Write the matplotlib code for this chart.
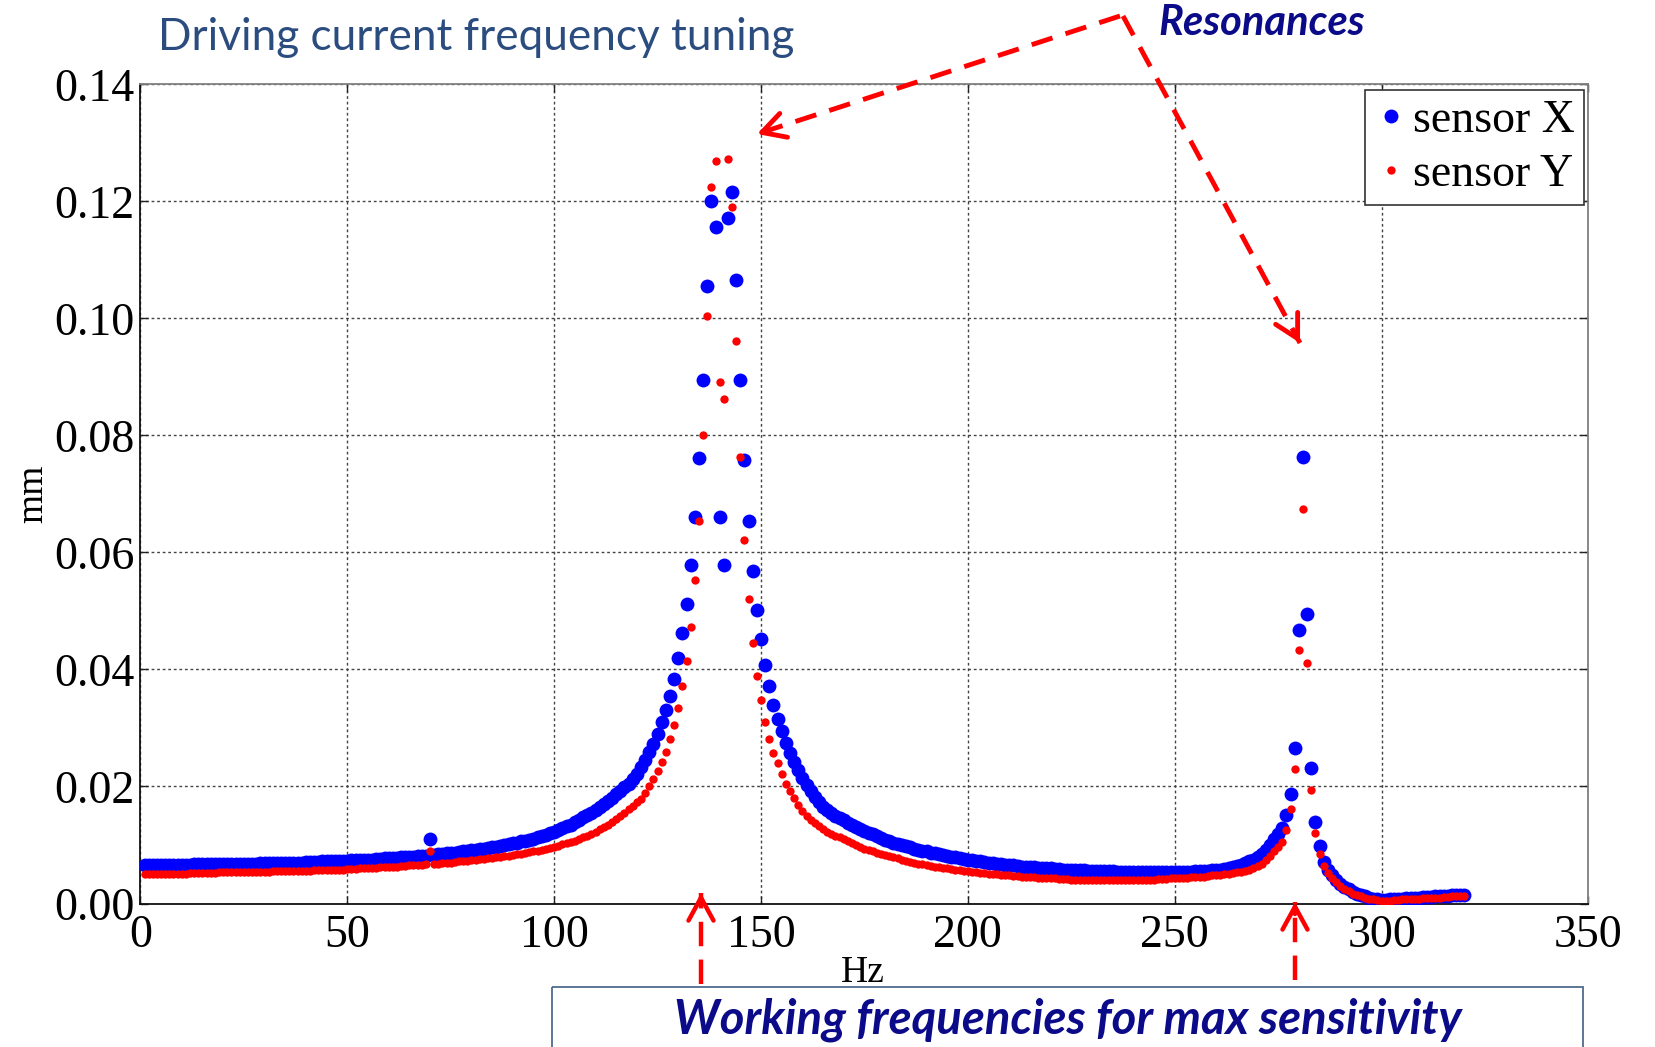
import matplotlib
matplotlib.use('Agg')
import matplotlib.pyplot as plt
from matplotlib.patches import Rectangle

# ---------------- data ----------------
freqs = list(range(1, 321))  # Hz, 1 Hz steps

sensor_x = [
    0.0065, 0.0065, 0.0065, 0.0065, 0.0066, 0.0066, 0.0066, 0.0066, 0.0066, 0.0066,
    0.0066, 0.0066, 0.0067, 0.0067, 0.0067, 0.0067, 0.0067, 0.0067, 0.0067, 0.0067,
    0.0067, 0.0068, 0.0068, 0.0068, 0.0068, 0.0068, 0.0068, 0.0068, 0.0069, 0.0069,
    0.0069, 0.0069, 0.0069, 0.0069, 0.0070, 0.0070, 0.0070, 0.0070, 0.0070, 0.0071,
    0.0071, 0.0071, 0.0071, 0.0072, 0.0072, 0.0072, 0.0072, 0.0073, 0.0073, 0.0073,
    0.0074, 0.0074, 0.0074, 0.0075, 0.0075, 0.0075, 0.0076, 0.0076, 0.0077, 0.0077,
    0.0078, 0.0078, 0.0079, 0.0079, 0.0080, 0.0080, 0.0081, 0.0082, 0.0082, 0.0111,
    0.0083, 0.0084, 0.0085, 0.0086, 0.0087, 0.0087, 0.0088, 0.0089, 0.0090, 0.0091,
    0.0092, 0.0093, 0.0094, 0.0095, 0.0096, 0.0097, 0.0099, 0.0100, 0.0101, 0.0103,
    0.0104, 0.0106, 0.0107, 0.0109, 0.0111, 0.0113, 0.0115, 0.0117, 0.0120, 0.0123,
    0.0126, 0.0129, 0.0132, 0.0135, 0.0139, 0.0143, 0.0147, 0.0151, 0.0155, 0.0160,
    0.0165, 0.0170, 0.0175, 0.0181, 0.0187, 0.0193, 0.0199, 0.0205, 0.0212, 0.0221,
    0.0233, 0.0245, 0.0259, 0.0273, 0.0289, 0.0310, 0.0331, 0.0355, 0.0384, 0.0419,
    0.0462, 0.0512, 0.0578, 0.0660, 0.0761, 0.0894, 0.1056, 0.1201, 0.1156, 0.0661,
    0.0579, 0.1171, 0.1216, 0.1065, 0.0894, 0.0758, 0.0653, 0.0568, 0.0502, 0.0452,
    0.0408, 0.0371, 0.0340, 0.0315, 0.0294, 0.0274, 0.0257, 0.0242, 0.0228, 0.0214,
    0.0203, 0.0192, 0.0182, 0.0173, 0.0165, 0.0160, 0.0155, 0.0150, 0.0146, 0.0142,
    0.0138, 0.0134, 0.0131, 0.0127, 0.0124, 0.0121, 0.0118, 0.0115, 0.0112, 0.0108,
    0.0106, 0.0104, 0.0102, 0.0100, 0.0098, 0.0096, 0.0094, 0.0092, 0.0090, 0.0089,
    0.0087, 0.0086, 0.0084, 0.0083, 0.0081, 0.0080, 0.0079, 0.0077, 0.0076, 0.0075,
    0.0074, 0.0073, 0.0072, 0.0071, 0.0070, 0.0069, 0.0068, 0.0067, 0.0066, 0.0065,
    0.0065, 0.0064, 0.0063, 0.0063, 0.0062, 0.0062, 0.0061, 0.0061, 0.0060, 0.0060,
    0.0059, 0.0059, 0.0058, 0.0058, 0.0058, 0.0057, 0.0057, 0.0057, 0.0056, 0.0056,
    0.0056, 0.0055, 0.0055, 0.0055, 0.0055, 0.0054, 0.0054, 0.0054, 0.0054, 0.0054,
    0.0054, 0.0053, 0.0053, 0.0053, 0.0053, 0.0053, 0.0053, 0.0053, 0.0053, 0.0053,
    0.0054, 0.0054, 0.0054, 0.0054, 0.0055, 0.0055, 0.0056, 0.0056, 0.0057, 0.0057,
    0.0058, 0.0059, 0.0060, 0.0062, 0.0064, 0.0066, 0.0069, 0.0072, 0.0075, 0.0079,
    0.0084, 0.0091, 0.0100, 0.0110, 0.0119, 0.0129, 0.0151, 0.0188, 0.0265, 0.0467,
    0.0763, 0.0494, 0.0231, 0.0140, 0.0098, 0.0071, 0.0058, 0.0048, 0.0040, 0.0033,
    0.0028, 0.0024, 0.0020, 0.0017, 0.0014, 0.0012, 0.0010, 0.0008, 0.0007, 0.0006,
    0.0006, 0.0007, 0.0007, 0.0008, 0.0008, 0.0009, 0.0009, 0.0010, 0.0010, 0.0011,
    0.0011, 0.0011, 0.0012, 0.0012, 0.0013, 0.0013, 0.0014, 0.0014, 0.0015, 0.0015,
]

sensor_y = [
    0.0050, 0.0050, 0.0050, 0.0050, 0.0051, 0.0051, 0.0051, 0.0051, 0.0051, 0.0051,
    0.0051, 0.0052, 0.0052, 0.0052, 0.0052, 0.0052, 0.0052, 0.0052, 0.0053, 0.0053,
    0.0053, 0.0053, 0.0053, 0.0053, 0.0053, 0.0054, 0.0054, 0.0054, 0.0054, 0.0054,
    0.0054, 0.0055, 0.0055, 0.0055, 0.0055, 0.0055, 0.0056, 0.0056, 0.0056, 0.0056,
    0.0056, 0.0057, 0.0057, 0.0057, 0.0057, 0.0058, 0.0058, 0.0058, 0.0058, 0.0059,
    0.0059, 0.0059, 0.0060, 0.0060, 0.0060, 0.0061, 0.0061, 0.0062, 0.0062, 0.0062,
    0.0063, 0.0063, 0.0064, 0.0064, 0.0065, 0.0065, 0.0066, 0.0066, 0.0067, 0.0089,
    0.0068, 0.0068, 0.0069, 0.0070, 0.0070, 0.0071, 0.0072, 0.0072, 0.0073, 0.0074,
    0.0075, 0.0076, 0.0076, 0.0077, 0.0078, 0.0079, 0.0080, 0.0081, 0.0082, 0.0083,
    0.0084, 0.0085, 0.0087, 0.0088, 0.0089, 0.0090, 0.0092, 0.0093, 0.0095, 0.0097,
    0.0099, 0.0101, 0.0103, 0.0105, 0.0107, 0.0110, 0.0113, 0.0116, 0.0119, 0.0123,
    0.0127, 0.0131, 0.0135, 0.0139, 0.0144, 0.0149, 0.0155, 0.0161, 0.0167, 0.0173,
    0.0179, 0.0189, 0.0201, 0.0212, 0.0226, 0.0242, 0.0259, 0.0281, 0.0305, 0.0335,
    0.0371, 0.0415, 0.0473, 0.0553, 0.0654, 0.0801, 0.1004, 0.1224, 0.1269, 0.0892,
    0.0863, 0.1272, 0.1190, 0.0962, 0.0763, 0.0621, 0.0520, 0.0446, 0.0389, 0.0347,
    0.0311, 0.0282, 0.0258, 0.0240, 0.0221, 0.0205, 0.0193, 0.0180, 0.0168, 0.0158,
    0.0150, 0.0143, 0.0137, 0.0132, 0.0127, 0.0123, 0.0119, 0.0116, 0.0113, 0.0110,
    0.0106, 0.0103, 0.0100, 0.0097, 0.0094, 0.0092, 0.0089, 0.0087, 0.0085, 0.0083,
    0.0081, 0.0079, 0.0077, 0.0075, 0.0073, 0.0071, 0.0070, 0.0068, 0.0067, 0.0065,
    0.0064, 0.0063, 0.0062, 0.0061, 0.0060, 0.0059, 0.0058, 0.0057, 0.0056, 0.0055,
    0.0054, 0.0053, 0.0052, 0.0052, 0.0051, 0.0050, 0.0050, 0.0049, 0.0049, 0.0048,
    0.0047, 0.0047, 0.0046, 0.0046, 0.0045, 0.0045, 0.0044, 0.0044, 0.0043, 0.0043,
    0.0043, 0.0042, 0.0042, 0.0042, 0.0041, 0.0041, 0.0041, 0.0041, 0.0040, 0.0040,
    0.0040, 0.0040, 0.0040, 0.0040, 0.0040, 0.0040, 0.0040, 0.0040, 0.0040, 0.0040,
    0.0040, 0.0041, 0.0041, 0.0041, 0.0041, 0.0042, 0.0042, 0.0042, 0.0043, 0.0043,
    0.0043, 0.0044, 0.0044, 0.0045, 0.0045, 0.0046, 0.0046, 0.0047, 0.0048, 0.0049,
    0.0049, 0.0050, 0.0051, 0.0052, 0.0053, 0.0054, 0.0056, 0.0058, 0.0061, 0.0064,
    0.0068, 0.0074, 0.0082, 0.0090, 0.0097, 0.0105, 0.0126, 0.0161, 0.0230, 0.0433,
    0.0675, 0.0411, 0.0194, 0.0120, 0.0085, 0.0064, 0.0052, 0.0043, 0.0036, 0.0030,
    0.0025, 0.0021, 0.0017, 0.0014, 0.0012, 0.0010, 0.0008, 0.0007, 0.0006, 0.0005,
    0.0005, 0.0005, 0.0006, 0.0006, 0.0007, 0.0007, 0.0008, 0.0008, 0.0008, 0.0009,
    0.0009, 0.0010, 0.0010, 0.0010, 0.0011, 0.0011, 0.0012, 0.0012, 0.0013, 0.0013,
]

series_labels = ['sensor X', 'sensor Y']
x_ticks = [0, 50, 100, 150, 200, 250, 300, 350]
x_tick_labels = ['0', '50', '100', '150', '200', '250', '300', '350']
y_ticks = [0.00, 0.02, 0.04, 0.06, 0.08, 0.10, 0.12, 0.14]
y_tick_labels = ['0.00', '0.02', '0.04', '0.06', '0.08', '0.10', '0.12', '0.14']
x_label = 'Hz'
y_label = 'mm'
title_text = 'Driving current frequency tuning'
resonance_text = 'Resonances'
working_text = 'Working frequencies for max sensitivity'

# ---------------- figure ----------------
plt.rcParams['font.family'] = ['Liberation Serif', 'DejaVu Serif']
W, H = 1655, 1047
fig = plt.figure(figsize=(W / 100, H / 100), dpi=100)

ax_l, ax_r, ax_t, ax_b = 140.4, 1588.5, 84.4, 903.5
ax = fig.add_axes([ax_l / W, 1 - ax_b / H, (ax_r - ax_l) / W, (ax_b - ax_t) / H])

ax.plot(freqs, sensor_x, ls='none', marker='o', ms=10, mew=0, color='#0000FF',
        label=series_labels[0], zorder=3)
ax.plot(freqs, sensor_y, ls='none', marker='o', ms=6, mew=0, color='#FF0000',
        label=series_labels[1], zorder=4)

ax.set_xlim(0, 350)
ax.set_ylim(0, 0.14)
ax.set_xticks(x_ticks)
ax.set_xticklabels(x_tick_labels)
ax.set_yticks(y_ticks)
ax.set_yticklabels(y_tick_labels)
ax.tick_params(direction='in', length=6, width=1, top=True, right=True,
               labelsize=33, colors='#222222', labelcolor='black')
ax.tick_params(axis='x', pad=8)
ax.tick_params(axis='y', pad=4)
ax.grid(True, color='#444444', linestyle=(0, (2, 2)), linewidth=1.0)
ax.set_axisbelow(True)
for side in ['top', 'right']:
    ax.spines[side].set_color('#808080')
    ax.spines[side].set_linewidth(1.3)
for side in ['bottom', 'left']:
    ax.spines[side].set_color('#111111')
    ax.spines[side].set_linewidth(1.3)

leg = ax.legend(loc='upper right', bbox_to_anchor=(1584 / W, 1 - 90 / H),
                bbox_transform=fig.transFigure,
                prop={'family': 'Liberation Serif', 'size': 33},
                numpoints=1, handlelength=0.75, handletextpad=0.1,
                labelspacing=0.25, borderpad=0.2, borderaxespad=0,
                fancybox=False, framealpha=1, edgecolor='#333333')
leg.get_frame().set_linewidth(1.2)
leg.set_zorder(20)

# ---------------- overlay for annotations (pixel coords, y down) ----------------
ov = fig.add_axes([0, 0, 1, 1], zorder=10)
ov.set_xlim(0, W)
ov.set_ylim(H, 0)
ov.axis('off')
ov.patch.set_visible(False)

ov.text(158, 50, title_text, family='Lato', fontsize=31.8, color='#2B4C7E',
        ha='left', va='baseline')
ov.text(1158, 35, resonance_text, family='Lato', fontsize=30, fontweight='bold',
        fontstyle='italic', color='#0B0B8A', ha='left', va='baseline')
ov.text(863, 982, x_label, fontsize=27, ha='center', va='baseline')
ov.text(42, 494, y_label, fontsize=27, rotation=90, rotation_mode='anchor',
        ha='center', va='baseline')

red = '#FF0000'
def dashed_arrow(x0, y0, x1, y1, lw=3.5, dashes=(4.5, 2.8)):
    ov.plot([x0, x1], [y0, y1], color=red, lw=lw, dashes=dashes,
            dash_capstyle='butt')
    dx, dy = x1 - x0, y1 - y0
    n = (dx * dx + dy * dy) ** 0.5
    ov.annotate('', xy=(x1, y1), xytext=(x1 - dx / n * 12, y1 - dy / n * 12),
                arrowprops=dict(arrowstyle='->,head_length=0.55,head_width=0.3',
                                color=red, lw=lw, shrinkA=0, shrinkB=0,
                                mutation_scale=30))

apex = (1120, 16)
dashed_arrow(apex[0], apex[1], 757, 134)
dashed_arrow(apex[0] + 3, apex[1], 1300, 343)
dashed_arrow(701, 984, 701, 893, lw=3.2, dashes=(5.5, 3))
dashed_arrow(1295, 980, 1295, 902, lw=3.2, dashes=(5.5, 3))

ov.add_patch(Rectangle((552, 987), 1031, 120, fill=False, edgecolor='#4F6B8F',
                       lw=1.3, clip_on=False))
ov.text(1068, 1034, working_text, family='Lato', fontsize=34, fontweight='bold',
        fontstyle='italic', color='#0B0B8A', ha='center', va='baseline')

fig.savefig('out.png', dpi=100)
